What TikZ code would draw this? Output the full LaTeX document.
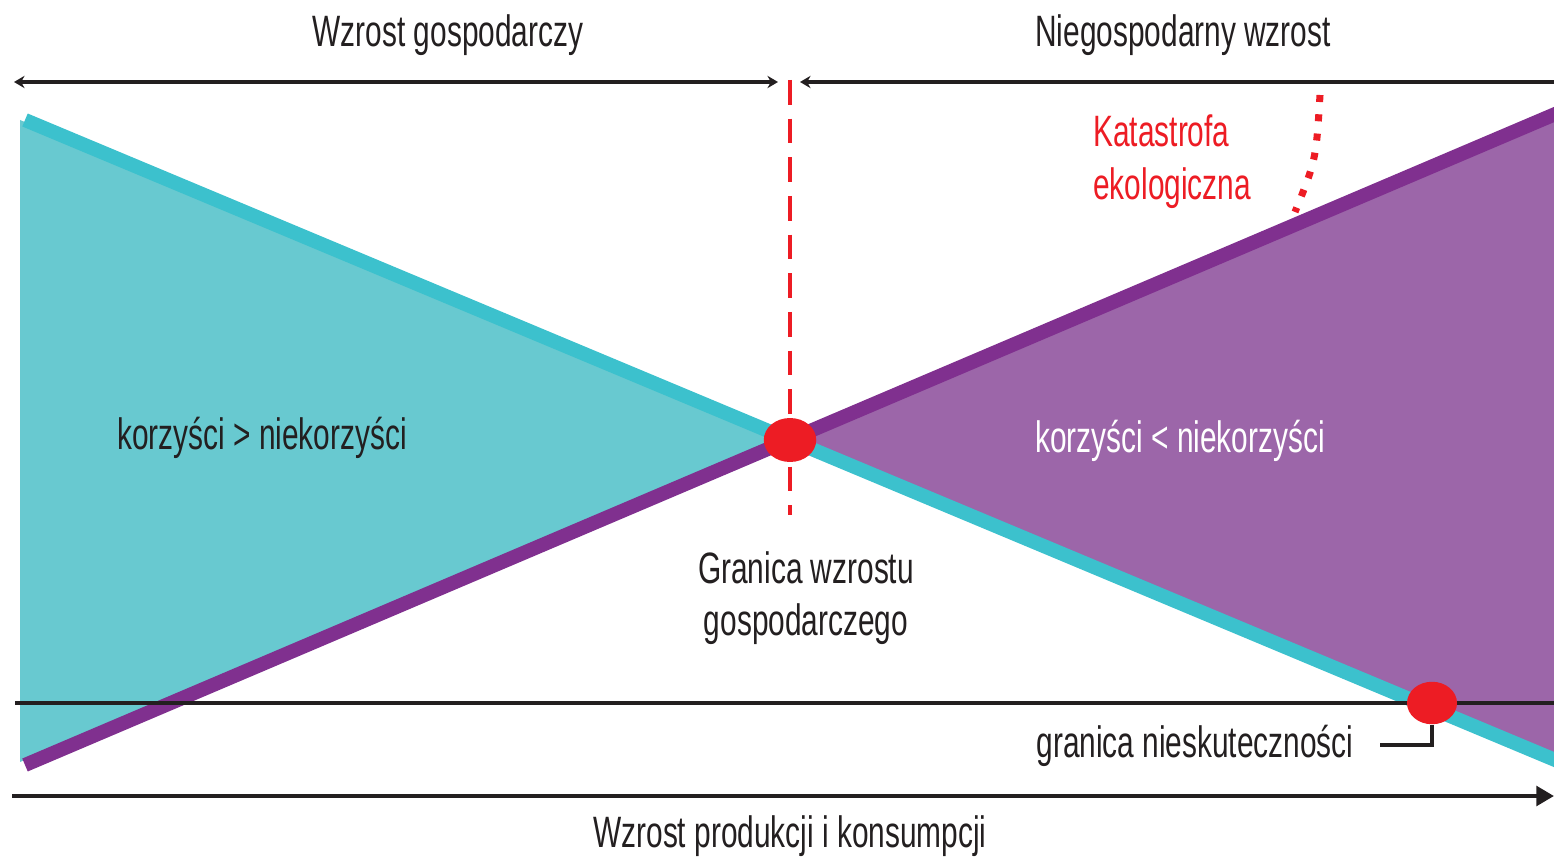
\documentclass[tikz,border=0pt]{standalone}
\usepackage{fontspec}
\setmainfont[FakeStretch=0.68]{Liberation Sans}
\usetikzlibrary{arrows.meta,shapes.geometric}
\usetikzlibrary{positioning}
\definecolor{cyanfill}{HTML}{68C9D0}
\definecolor{cyanline}{HTML}{3CC1CD}
\definecolor{purplefill}{HTML}{9C66A9}
\definecolor{purpleline}{HTML}{80308F}
\definecolor{dotred}{HTML}{ED1C24}
\definecolor{ink}{HTML}{231F20}
\tikzset{
  txt/.style={
    font=\fontsize{25}{30}\selectfont,
    text=ink,
    inner sep=0pt,
    align=center,
  },
  axis/.style={
    draw=ink,
    line width=2.4pt,
  },
  hit/.style={
    ellipse,
    fill=dotred,
    minimum width=1.05cm,
    minimum height=0.88cm,
    inner sep=0pt,
  },
}

\begin{document}
\begin{tikzpicture}[x=0.02cm,y=-0.02cm]
  \useasboundingbox (0,0) rectangle (1554,858);

  % the two areas
  \fill[cyanfill] (20,120) -- (790,440) -- (20,762) -- cycle;
  \fill[purplefill] (790,440) -- (1554,112) -- (1554,760) -- cycle;

  % benefit and cost lines
  \begin{scope}
    \clip (20,0) rectangle (1554,858);
    \draw[cyanline, line width=8pt] (25,120) -- (1560,762);
    \draw[purpleline, line width=8pt] (25,765) -- (1560,112);
  \end{scope}

  % limit of growth
  \draw[dotred, line width=1.8pt, dash pattern=on 14pt off 8pt] (790,80) -- (790,515);
  \node[hit] (limit) at (790,440) {};

  % ecological disaster
  \coordinate (top) at (1320,95);
  \coordinate (hitline) at (1295,212);
  \draw[dotred, line width=4pt, dash pattern=on 4pt off 7pt] (top) .. controls (1316,160) .. (hitline);
  \node[txt, text=dotred, align=left, anchor=west] (disaster) at (1093,162)
    {Katastrofa\\ekologiczna};

  % headings with ranges
  \coordinate (l1) at (14,82);
  \coordinate (l2) at (778,82);
  \coordinate (r1) at (800,82);
  \coordinate (r2) at (1554,82);
  \draw[axis, {Stealth[length=6pt,width=7pt]}-{Stealth[length=6pt,width=7pt]}] (l1) -- (l2);
  \draw[axis, {Stealth[length=6pt,width=7pt]}-] (r1) -- (r2);
  \node[txt] (growth) at (448,35) {Wzrost gospodarczy};
  \node[txt] (waste) at (1183,35) {Niegospodarny wzrost};

  % area labels
  \node[txt] (plus) at (262,438) {korzyści > niekorzyści};
  \node[txt, text=white] (minus) at (1180,441) {korzyści < niekorzyści};
  \node[txt] (border) at (806,598) {Granica wzrostu\\gospodarczego};

  % ineffectiveness line
  \coordinate (h1) at (15,703);
  \coordinate (h2) at (1554,703);
  \draw[ink, line width=1.8pt] (h1) -- (h2);
  \node[hit, minimum width=1.0cm, minimum height=0.85cm] (ineff) at (1432,703) {};
  \node[txt] (ineflabel) at (1195,746) {granica nieskuteczności};
  \coordinate (tick) at (1380,745);
  \draw[ink, line width=1.8pt] (ineff.south) |- (tick);

  % production axis
  \coordinate (a1) at (12,796);
  \coordinate (a2) at (1554,796);
  \draw[axis, -{Triangle[length=10pt,width=11pt]}] (a1) -- (a2);
  \node[txt] (prod) at (790,836) {Wzrost produkcji i konsumpcji};
\end{tikzpicture}
\end{document}
